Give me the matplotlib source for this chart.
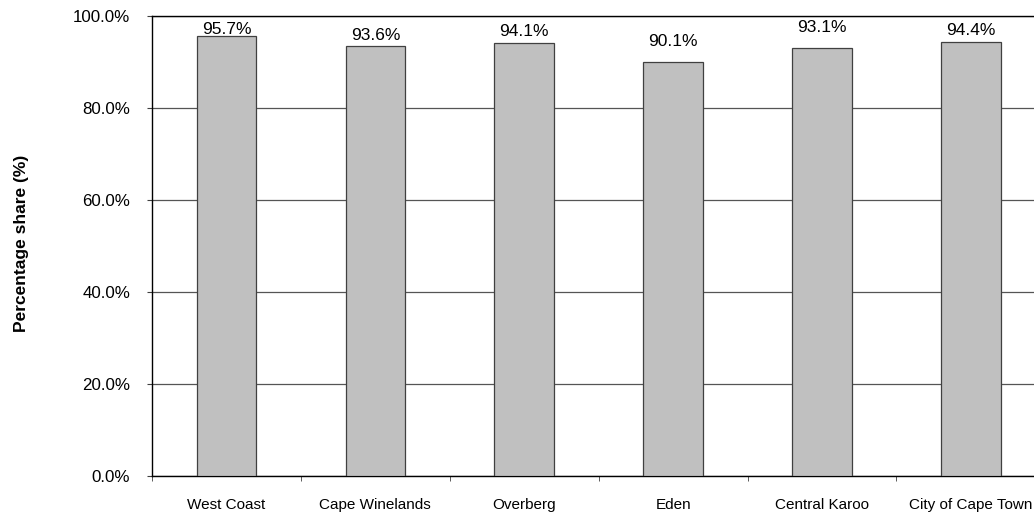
import matplotlib
matplotlib.use("Agg")
import matplotlib.pyplot as plt
from matplotlib.ticker import FuncFormatter, FixedLocator

plt.rcParams['font.family'] = ['Liberation Sans', 'DejaVu Sans']

districts = ["West Coast", "Cape Winelands", "Overberg", "Eden",
             "Central Karoo", "City of Cape Town"]
share = [95.7, 93.6, 94.1, 90.1, 93.1, 94.4]
value_labels = ["95.7%", "93.6%", "94.1%", "90.1%", "93.1%", "94.4%"]
y_ticks = [0, 20, 40, 60, 80, 100]

# vertical gap (points) between each bar top and its value label
label_gap_pt = [5.0, 7.2, 8.6, 14.8, 14.9, 8.6]

fig = plt.figure(figsize=(10.34, 5.16), dpi=100)
ax = fig.add_axes([0.147, 0.0775, 0.864, 0.891])

x = list(range(len(districts)))
ax.bar(x, share, width=0.40, color="#C0C0C0", edgecolor="#404040",
       linewidth=0.9, zorder=3)

for xi, v, lab, gap in zip(x, share, value_labels, label_gap_pt):
    ax.annotate(lab, (xi, v), xytext=(0, gap), textcoords="offset points",
                ha="center", va="center", fontsize=12.5, color="#000000")

ax.set_xlim(-0.5, len(districts) - 0.5)
ax.set_ylim(0, 100)
ax.yaxis.set_major_locator(FixedLocator(y_ticks))
ax.yaxis.set_major_formatter(FuncFormatter(lambda v, p: f"{v:.1f}%"))
ax.grid(axis="y", color="#555555", linewidth=0.9, zorder=0)

ax.set_xticks(x)
ax.set_xticklabels(districts, fontsize=11)
ax.tick_params(axis="x", which="major", length=0, pad=16)
ax.set_xticks([i + 0.5 for i in range(-1, len(districts))], minor=True)
ax.tick_params(axis="x", which="minor", length=3.6, color="#404040")
ax.tick_params(axis="y", labelsize=12.2, length=3.6, pad=12, color="#404040")

for side in ["left", "bottom", "top", "right"]:
    ax.spines[side].set_color("#000000")
    ax.spines[side].set_linewidth(1.0)

# y-axis title at a fixed spot near the left edge of the figure
ax.set_ylabel("Percentage share (%)", fontsize=12.5, fontweight="bold")
ax.yaxis.set_label_coords(22 / 1034, 1 - 243 / 516, transform=fig.transFigure)
ax.yaxis.label.set_va("center")
ax.yaxis.label.set_ha("center")

fig.savefig("out.png", dpi=100)
